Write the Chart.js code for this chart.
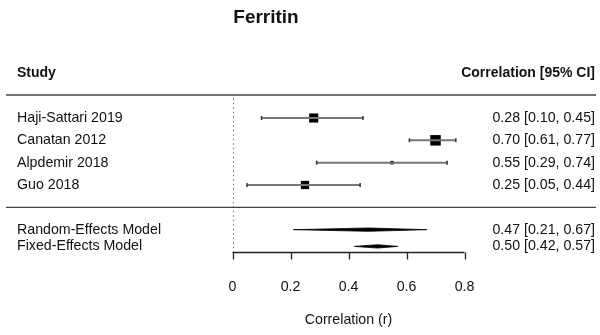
<!DOCTYPE html>
<html>
<head>
<meta charset="utf-8">
<script src="https://cdn.jsdelivr.net/npm/chart.js@4"></script>
<style>
  body { margin: 0; background: #fff; overflow: hidden; }
  #wrap { width: 600px; height: 335px; position: relative; }
</style>
</head>
<body>
<div id="wrap"><canvas id="forest"></canvas></div>
<script>
const chartTitle = 'Ferritin';
const studies = ['Haji-Sattari 2019', 'Canatan 2012', 'Alpdemir 2018', 'Guo 2018'];
const estimates = [0.28, 0.70, 0.55, 0.25];
const ciLower = [0.10, 0.61, 0.29, 0.05];
const ciUpper = [0.45, 0.77, 0.74, 0.44];
const weights = [28, 33, 8, 25]; // estimated from square sizes
const models = ['Random-Effects Model', 'Fixed-Effects Model'];
const modelEst = [0.47, 0.50];
const modelLower = [0.21, 0.42];
const modelUpper = [0.67, 0.57];
const xTicks = [0, 0.2, 0.4, 0.6, 0.8];
const xLabel = 'Correlation (r)';

const FONT = "'Liberation Sans', Arial, sans-serif";
const fmt = v => v.toFixed(2);

// row layout (1 unit = one study row)
const studyRow = i => i;
const sepRow = studies.length;
const modelRow = i => studies.length + 1 + i * 0.75;
const axisRow = studies.length + 2;

const wMin = Math.min(...weights), wMax = Math.max(...weights);
const squareRadius = weights.map(w => (3.5 + 7 * (w - wMin) / (wMax - wMin)) / (2 * Math.SQRT1_2));

const datasets = [];
studies.forEach((s, i) => {
    datasets.push({
        data: [{ x: ciLower[i], y: studyRow(i) }, { x: ciUpper[i], y: studyRow(i) }],
        showLine: true,
        borderColor: '#777',
        borderWidth: 2,
        pointStyle: 'line',
        rotation: 90,
        pointRadius: 2,
        pointBorderColor: '#333',
        pointBorderWidth: 1.5
    });
});
datasets.push({
    data: estimates.map((e, i) => ({ x: e, y: studyRow(i) })),
    pointStyle: 'rect',
    pointRadius: squareRadius,
    backgroundColor: '#000',
    borderColor: '#000',
    borderWidth: 0
});
models.forEach((m, i) => {
    const r = modelRow(i), h = 0.075;
    datasets.push({
        data: [
            { x: modelLower[i], y: r }, { x: modelEst[i], y: r - h },
            { x: modelUpper[i], y: r }, { x: modelEst[i], y: r + h },
            { x: modelLower[i], y: r }
        ],
        showLine: true,
        fill: 'shape',
        tension: 0,
        pointRadius: 0,
        borderColor: '#000',
        borderWidth: 0.8,
        backgroundColor: '#000'
    });
});

const forestText = {
    id: 'forestText',
    beforeDatasetsDraw(chart) {
        const { ctx, scales: { x, y }, chartArea } = chart;
        ctx.save();
        // reference line at 0
        ctx.strokeStyle = '#666';
        ctx.lineWidth = 1;
        ctx.setLineDash([1.3, 3.2]);
        ctx.beginPath();
        ctx.moveTo(Math.round(x.getPixelForValue(0)) + 0.5, y.getPixelForValue(-0.88));
        ctx.lineTo(Math.round(x.getPixelForValue(0)) + 0.5, y.getPixelForValue(axisRow));
        ctx.stroke();
        ctx.setLineDash([]);
        // horizontal rules
        ctx.strokeStyle = '#444';
        ctx.lineWidth = 1.3;
        [-1.03, sepRow].forEach(r => {
            const py = y.getPixelForValue(r);
            ctx.beginPath();
            ctx.moveTo(chartArea.left + 6, py);
            ctx.lineTo(chartArea.right - 4, py);
            ctx.stroke();
        });
        ctx.restore();
    },
    afterDatasetsDraw(chart) {
        const { ctx, scales: { x, y }, chartArea } = chart;
        ctx.save();
        ctx.fillStyle = '#111';
        ctx.textBaseline = 'middle';

        ctx.font = 'bold 19px ' + FONT;
        ctx.textAlign = 'center';
        ctx.fillText(chartTitle, 266, 18);

        ctx.font = 'bold 14px ' + FONT;
        ctx.textAlign = 'left';
        ctx.fillText('Study', 17, y.getPixelForValue(-2.03));
        ctx.textAlign = 'right';
        ctx.fillText('Correlation [95% CI]', chartArea.right - 5, y.getPixelForValue(-2.03));

        ctx.font = '14.2px ' + FONT;
        studies.forEach((s, i) => {
            const py = y.getPixelForValue(studyRow(i));
            ctx.textAlign = 'left';
            ctx.fillText(s, 17, py);
            ctx.textAlign = 'right';
            ctx.fillText(`${fmt(estimates[i])} [${fmt(ciLower[i])}, ${fmt(ciUpper[i])}]`, chartArea.right - 5, py);
        });
        models.forEach((m, i) => {
            const py = y.getPixelForValue(modelRow(i));
            ctx.textAlign = 'left';
            ctx.fillText(m, 17, py);
            ctx.textAlign = 'right';
            ctx.fillText(`${fmt(modelEst[i])} [${fmt(modelLower[i])}, ${fmt(modelUpper[i])}]`, chartArea.right - 5, py);
        });

        // x axis
        const ay = Math.round(y.getPixelForValue(axisRow)) + 0.5;
        ctx.strokeStyle = '#222';
        ctx.lineWidth = 1.3;
        ctx.beginPath();
        ctx.moveTo(x.getPixelForValue(xTicks[0]), ay);
        ctx.lineTo(x.getPixelForValue(xTicks[xTicks.length - 1]), ay);
        xTicks.forEach(t => {
            const px = Math.round(x.getPixelForValue(t)) + 0.5;
            ctx.moveTo(px, ay);
            ctx.lineTo(px, ay + 7);
        });
        ctx.stroke();
        ctx.textAlign = 'center';
        xTicks.forEach(t => {
            ctx.fillText(t === 0 ? '0' : String(t), x.getPixelForValue(t), ay + 35);
        });
        ctx.fillText(xLabel, x.getPixelForValue((xTicks[0] + xTicks[xTicks.length - 1]) / 2), ay + 68);
        ctx.restore();
    }
};

new Chart(document.getElementById('forest'), {
    type: 'scatter',
    data: { datasets },
    options: {
        responsive: true,
        maintainAspectRatio: false,
        animation: false,
        layout: { padding: 0, autoPadding: false },
        plugins: { legend: { display: false }, tooltip: { enabled: false } },
        scales: {
            x: { type: 'linear', display: false, min: -0.8017, max: 1.2672 },
            y: { type: 'linear', display: false, reverse: true, min: -5.284, max: 9.718 }
        }
    },
    plugins: [forestText]
});
</script>
</body>
</html>
